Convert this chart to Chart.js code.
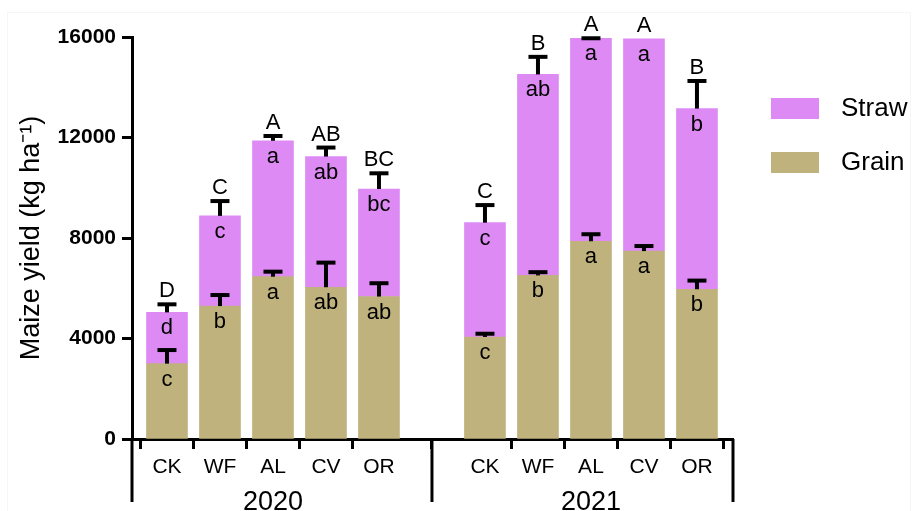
<!DOCTYPE html>
<html>
<head>
<meta charset="utf-8">
<script src="https://cdn.jsdelivr.net/npm/chart.js@4"></script>
<style>
  html, body { margin: 0; padding: 0; background: #fff; }
  #wrap { width: 912px; height: 511px; }
</style>
</head>
<body>
<div id="wrap"><canvas id="chart" width="912" height="511"></canvas></div>
<script>
// bar positions on the x axis (slot 6 is the gap between years)
const positions = [1, 2, 3, 4, 5, 7, 8, 9, 10, 11];
const treatments = ['CK', 'WF', 'AL', 'CV', 'OR'];
const years = ['2020', '2021'];
const yearCenters = [3, 9];
const yTicks = [0, 4000, 8000, 12000, 16000];

// kg/ha, 2020 then 2021
const grain = [3000, 5290, 6460, 6040, 5670, 4060, 6510, 7870, 7480, 5960];
const straw = [2040, 3590, 5410, 5200, 4280, 4550, 8000, 8080, 8450, 7190];
const grainErr = [540, 440, 200, 980, 530, 130, 130, 280, 200, 345];
const totalErr = [320, 590, 190, 360, 625, 700, 700, 0, null, 1100];

const grainLetters = ['c', 'b', 'a', 'ab', 'ab', 'c', 'b', 'a', 'a', 'b'];
const strawLetters = ['d', 'c', 'a', 'ab', 'bc', 'c', 'ab', 'a', 'a', 'b'];
const totalLetters = ['D', 'C', 'A', 'AB', 'BC', 'C', 'B', 'A', 'A', 'B'];

const FONT = "'Liberation Sans', Arial, Helvetica, sans-serif";
const GRAIN_COLOR = '#bfb27d';
const STRAW_COLOR = '#dd8af5';

const annotate = {
  id: 'annotate',
  beforeDraw(chart) {
    const c = chart.ctx;
    c.save();
    c.strokeStyle = '#f6f6f6';
    c.lineWidth = 1;
    c.strokeRect(7.5, 12.5, 903, 510);
    c.restore();
  },
  afterDraw(chart) {
    const c = chart.ctx;
    const xs = chart.scales.x, ys = chart.scales.y;
    c.save();

    // error bars (upper half only)
    c.strokeStyle = '#000';
    c.lineCap = 'butt';
    function errBar(xp, v, e) {
      if (e === null) return;
      const y0 = ys.getPixelForValue(v);
      const y1 = ys.getPixelForValue(v + e);
      c.lineWidth = 4;
      c.beginPath();
      c.moveTo(xp, y0);
      c.lineTo(xp, y1);
      c.stroke();
      c.beginPath();
      c.moveTo(xp - 9.5, y1);
      c.lineTo(xp + 9.5, y1);
      c.stroke();
    }
    positions.forEach((p, i) => {
      const xp = xs.getPixelForValue(p);
      errBar(xp, grain[i], grainErr[i]);
      errBar(xp, grain[i] + straw[i], totalErr[i]);
    });

    // significance letters
    c.fillStyle = '#000';
    c.textAlign = 'center';
    c.textBaseline = 'alphabetic';
    c.font = '22px ' + FONT;
    positions.forEach((p, i) => {
      const xp = xs.getPixelForValue(p);
      const gTop = ys.getPixelForValue(grain[i]);
      const tTop = ys.getPixelForValue(grain[i] + straw[i]);
      c.fillText(grainLetters[i], xp, gTop + 22);
      c.fillText(strawLetters[i], xp, tTop + 22);
      const capY = totalErr[i] === null ? tTop : ys.getPixelForValue(grain[i] + straw[i] + totalErr[i]);
      c.fillText(totalLetters[i], xp, capY - 7);
    });

    // year brackets under the axis
    const bottom = xs.top;
    c.lineWidth = 3;
    [xs.left, xs.getPixelForValue(6), xs.right].forEach(xp => {
      c.beginPath();
      c.moveTo(xp, bottom);
      c.lineTo(xp, 502);
      c.stroke();
    });
    c.font = '27px ' + FONT;
    years.forEach((yr, k) => {
      c.fillText(yr, xs.getPixelForValue(yearCenters[k]), 510);
    });

    // legend
    const items = [['Straw', STRAW_COLOR, 98], ['Grain', GRAIN_COLOR, 152]];
    c.font = '26px ' + FONT;
    c.textAlign = 'left';
    c.textBaseline = 'middle';
    items.forEach(([lab, col, top]) => {
      c.fillStyle = col;
      c.fillRect(771, top, 48, 21);
      c.fillStyle = '#000';
      c.fillText(lab, 841, top + 11);
    });
    c.restore();
  }
};

const ctx = document.getElementById('chart').getContext('2d');
new Chart(ctx, {
  type: 'bar',
  data: {
    datasets: [{
      label: 'Grain',
      data: positions.map((x, i) => ({ x: x, y: grain[i] })),
      backgroundColor: GRAIN_COLOR,
      barThickness: 41
    }, {
      label: 'Straw',
      data: positions.map((x, i) => ({ x: x, y: straw[i] })),
      backgroundColor: STRAW_COLOR,
      barThickness: 41
    }]
  },
  options: {
    responsive: false,
    animation: false,
    layout: { padding: { left: 0, right: 179, top: 37, bottom: 0 } },
    plugins: {
      legend: { display: false },
      tooltip: { enabled: false }
    },
    scales: {
      x: {
        type: 'linear',
        stacked: true,
        min: 0.34,
        max: 11.68,
        offset: false,
        afterBuildTicks: s => { s.ticks = positions.map(v => ({ value: v })); },
        afterFit: s => { s.height = 72; },
        grid: { drawOnChartArea: false, drawTicks: true, tickLength: 10, tickWidth: 3, tickColor: '#000' },
        border: { display: true, color: '#000', width: 3 },
        ticks: {
          autoSkip: false,
          maxRotation: 0,
          padding: 6,
          color: '#000',
          font: { family: FONT, size: 21 },
          callback: v => {
            const i = positions.indexOf(v);
            return i < 0 ? '' : treatments[i % 5];
          }
        }
      },
      y: {
        stacked: true,
        min: 0,
        max: 16000,
        afterBuildTicks: s => { s.ticks = yTicks.map(v => ({ value: v })); },
        afterFit: s => { s.width = 132; },
        grid: { drawOnChartArea: false, drawTicks: true, tickLength: 10, tickWidth: 3, tickColor: '#000' },
        border: { display: true, color: '#000', width: 3 },
        ticks: {
          padding: 6,
          color: '#000',
          font: { family: FONT, size: 21, weight: 'bold' },
          callback: v => String(v)
        },
        title: {
          display: true,
          text: 'Maize yield (kg ha⁻¹)',
          color: '#000',
          font: { family: FONT, size: 27 },
          padding: { top: 15, bottom: 0 }
        }
      }
    }
  },
  plugins: [annotate]
});
</script>
</body>
</html>
